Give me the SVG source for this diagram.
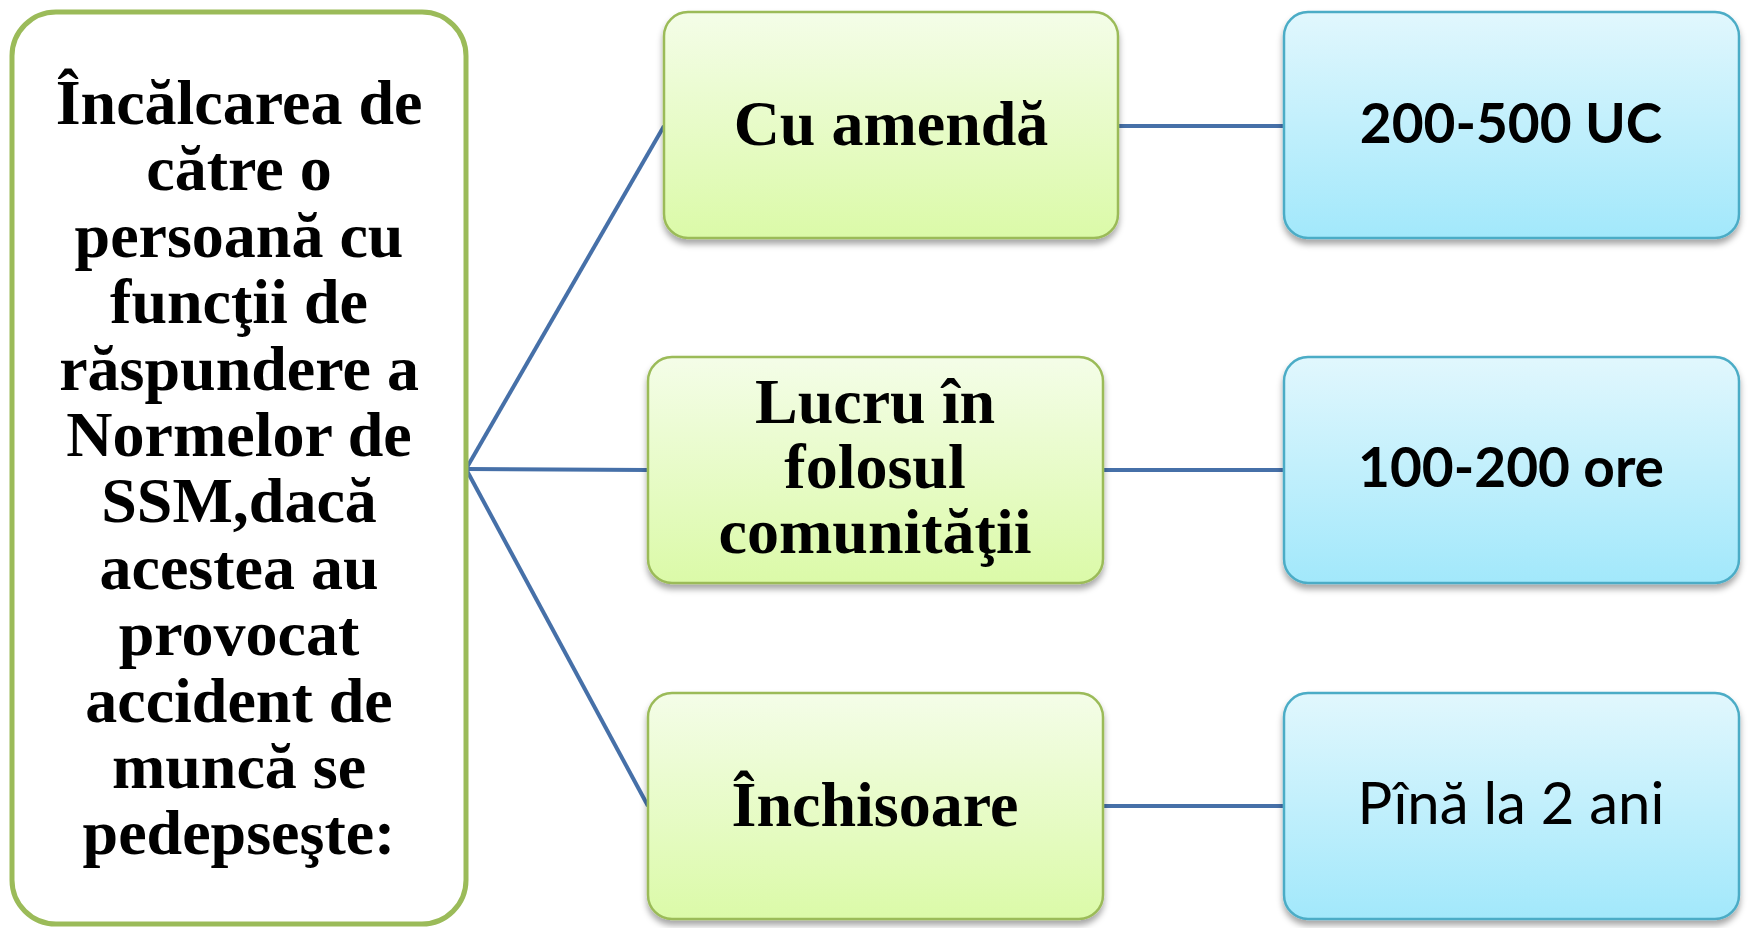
<svg xmlns="http://www.w3.org/2000/svg" width="1748" height="928" viewBox="0 0 1748 928">
<style>
.serif{font-family:"Liberation Serif","Times New Roman",serif;font-weight:bold;fill:#000;text-anchor:middle}
.sans{font-family:Lato,"Open Sans","Liberation Sans",sans-serif;fill:#000;text-anchor:middle}
.green{fill:url(#gGreen);stroke:#9BBB59;stroke-width:2.5}
.blue{fill:url(#gBlue);stroke:#4BACC6;stroke-width:2.5}
.conn{stroke:#4670A8;stroke-width:4;fill:none}
</style>
<defs>
<linearGradient id="gGreen" x1="0" y1="0" x2="0" y2="1">
<stop offset="0" stop-color="#F4FDE8"/>
<stop offset="1" stop-color="#DBFAA8"/>
</linearGradient>
<linearGradient id="gBlue" x1="0" y1="0" x2="0" y2="1">
<stop offset="0" stop-color="#E1F7FD"/>
<stop offset="1" stop-color="#A2E8FB"/>
</linearGradient>
<filter id="shadow" x="-10%" y="-10%" width="120%" height="130%">
<feDropShadow dx="0" dy="5" stdDeviation="3" flood-color="#000" flood-opacity="0.35"/>
</filter>
</defs>
<rect width="1748" height="928" fill="#fff"/>
<g id="connectors">
<line class="conn" x1="466" y1="469" x2="664" y2="126"/>
<line class="conn" x1="466" y1="469" x2="648" y2="470"/>
<line class="conn" x1="466" y1="469" x2="648" y2="806"/>
<line class="conn" x1="1117" y1="126" x2="1284" y2="126"/>
<line class="conn" x1="1102" y1="470" x2="1284" y2="470"/>
<line class="conn" x1="1102" y1="806" x2="1284" y2="806"/>
</g>
<g id="root">
<rect x="12" y="12" width="454" height="912" rx="44" ry="44" fill="#fff" stroke="#9BBB59" stroke-width="5"/>
<text class="serif" font-size="64"><tspan x="239" y="124">Încălcarea de</tspan><tspan x="239" y="190.4">către o</tspan><tspan x="239" y="256.8">persoană cu</tspan><tspan x="239" y="323.2">funcţii de</tspan><tspan x="239" y="389.6">răspundere a</tspan><tspan x="239" y="456">Normelor de</tspan><tspan x="239" y="522.4">SSM,dacă</tspan><tspan x="239" y="588.8">acestea au</tspan><tspan x="239" y="655.2">provocat</tspan><tspan x="239" y="721.6">accident de</tspan><tspan x="239" y="788">muncă se</tspan><tspan x="239" y="854.4">pedepseşte:</tspan></text>
</g>
<g id="amenda">
<rect class="green" x="664" y="12" width="454" height="226" rx="24" filter="url(#shadow)"/>
<text class="serif" font-size="64" x="891" y="145">Cu amendă</text>
</g>
<g id="lucru">
<rect class="green" x="648" y="357" width="455" height="226" rx="24" filter="url(#shadow)"/>
<text class="serif" font-size="64"><tspan x="875" y="423">Lucru în</tspan><tspan x="875" y="488">folosul</tspan><tspan x="875" y="553">comunităţii</tspan></text>
</g>
<g id="inchisoare">
<rect class="green" x="648" y="693" width="455" height="226" rx="24" filter="url(#shadow)"/>
<text class="serif" font-size="64" x="875" y="826">Închisoare</text>
</g>
<g id="uc">
<rect class="blue" x="1284" y="12" width="455" height="226" rx="24" filter="url(#shadow)"/>
<text class="sans" font-size="55" font-weight="bold" x="1511" y="143">200-500 UC</text>
</g>
<g id="ore">
<rect class="blue" x="1284" y="357" width="455" height="226" rx="24" filter="url(#shadow)"/>
<text class="sans" font-size="55" font-weight="bold" x="1511" y="487">100-200 ore</text>
</g>
<g id="ani">
<rect class="blue" x="1284" y="693" width="455" height="226" rx="24" filter="url(#shadow)"/>
<text class="sans" font-size="58" x="1511" y="824">Pînă la 2 ani</text>
</g>
</svg>
